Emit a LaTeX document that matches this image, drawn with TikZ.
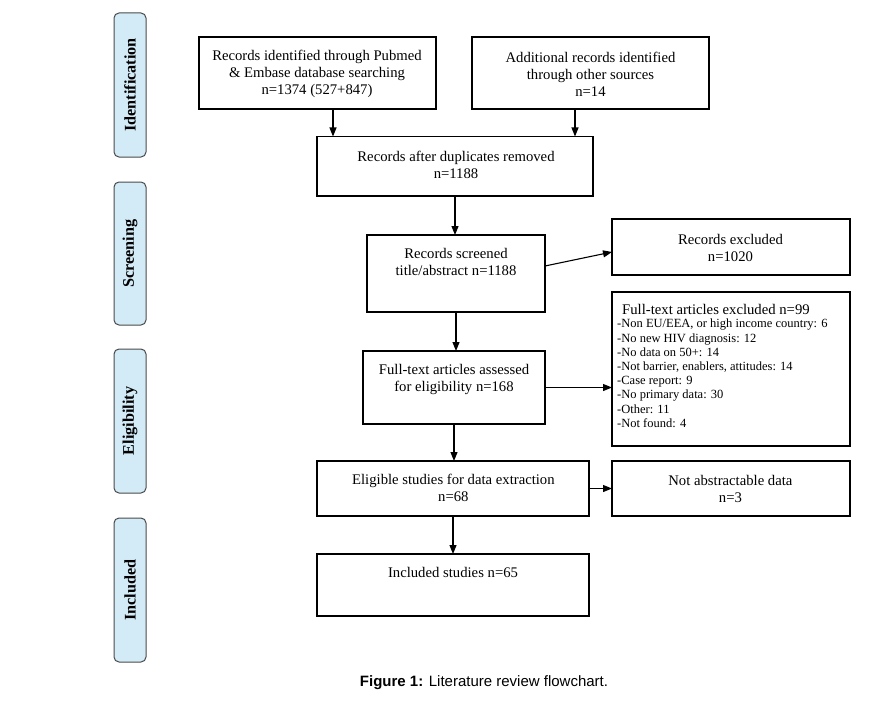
\documentclass[tikz,border=0pt]{standalone}
\usepackage{fontspec}
\setmainfont{Liberation Serif}
\newfontfamily\capfont{Liberation Sans}
\usetikzlibrary{arrows.meta}
\definecolor{phasefill}{HTML}{D2EBF7}
\definecolor{phasedraw}{HTML}{4A4A4A}
\begin{document}
\begin{tikzpicture}[x=1pt,y=-1pt,
  box/.style={draw=black, line width=1.1pt, inner sep=0pt, outer sep=0pt},
  phase/.style={draw=phasedraw, fill=phasefill, line width=1pt, rounded corners=5pt,
    inner sep=0pt, outer sep=0pt, rotate=90, minimum height=32pt,
    font=\bfseries\fontsize{16.2}{19}\selectfont},
  txt/.style={inner sep=0pt, align=center, font=\fontsize{14.7}{17}\selectfont},
  arr/.style={line width=1.1pt, -{Triangle[length=9pt,width=7pt]}}]
\useasboundingbox (0,0) rectangle (888,706);

% phase labels
\node[phase, minimum width=144pt] (p1) at (130,85) {Identification};
\node[phase, minimum width=143pt] (p2) at (130,253.5) {Screening};
\node[phase, minimum width=144pt] (p3) at (130,421) {Eligibility};
\node[phase, minimum width=144pt] (p4) at (130,590) {Included};

% boxes
\node[box, minimum width=237pt, minimum height=72pt] (a) at (317.5,73) {};
\node[box, minimum width=237pt, minimum height=72pt] (b) at (590.5,73) {};
\node[box, minimum width=276pt, minimum height=59.5pt] (c) at (455,166.25) {};
\node[box, minimum width=178pt, minimum height=77pt] (d) at (456,273.5) {};
\node[box, minimum width=238pt, minimum height=56pt] (e) at (731,247) {};
\node[box, minimum width=238pt, minimum height=154pt] (f) at (731,369) {};
\node[box, minimum width=182pt, minimum height=73pt] (g) at (454,387.5) {};
\node[box, minimum width=272pt, minimum height=55pt] (h) at (453,488.5) {};
\node[box, minimum width=238pt, minimum height=55pt] (i) at (731,488.5) {};
\node[box, minimum width=272pt, minimum height=62pt] (j) at (453,585) {};

% texts
\node[txt] (ta) at (317,74) {Records identified through Pubmed\\ \& Embase database searching\\ n=1374 (527+847)};
\node[txt] (tb) at (590.5,74) {Additional records identified\\ through other sources\\ n=14};
\node[txt] (tc) at (456,164.5) {Records after duplicates removed\\ n=1188};
\node[txt] (td) at (456,262) {Records screened\\ title/abstract n=1188};
\node[txt] (te) at (730.5,247.5) {Records excluded\\ n=1020};
\node[txt, anchor=west] (tf) at (622,309.5) {Full-text articles excluded n=99};
\node[inner sep=0pt, align=left, anchor=north west, font=\fontsize{12.5}{14.2}\selectfont] (tfl) at (617,319) {-Non EU/EEA, or high income country: 6\\ -No new HIV diagnosis: 12\\ -No data on 50+: 14\\ -Not barrier, enablers, attitudes: 14\\ -Case report: 9\\ -No primary data: 30\\ -Other: 11\\ -Not found: 4};
\node[txt] (tg) at (454,379.5) {Full-text articles assessed\\ for eligibility n=168};
\node[txt] (th) at (453.4,488) {Eligible studies for data extraction\\ n=68};
\node[txt] (ti) at (730.4,489) {Not abstractable data\\ n=3};
\node[txt] (tj) at (453,572) {Included studies n=65};

% caption
\node[inner sep=0pt, font=\capfont\fontsize{15}{18}\selectfont] (cap) at (484,683) {\textbf{Figure 1:} Literature review flowchart.};

% arrows
\draw[arr] ([xshift=15.5pt]a.south) -- ([xshift=15.5pt]a.south |- c.north);
\draw[arr] ([xshift=-15.5pt]b.south) -- ([xshift=-15.5pt]b.south |- c.north);
\draw[arr] (c.south) -- (c.south |- d.north);
\draw[arr] ([yshift=7.5pt]d.east) -- ([yshift=-5pt]e.west);
\draw[arr] (d.south) -- (d.south |- g.north);
\draw[arr] (g.east) -- (g.east -| f.west);
\draw[arr] (g.south) -- (g.south |- h.north);
\draw[arr] (h.east) -- (h.east -| i.west);
\draw[arr] (h.south) -- (h.south |- j.north);
\end{tikzpicture}
\end{document}
